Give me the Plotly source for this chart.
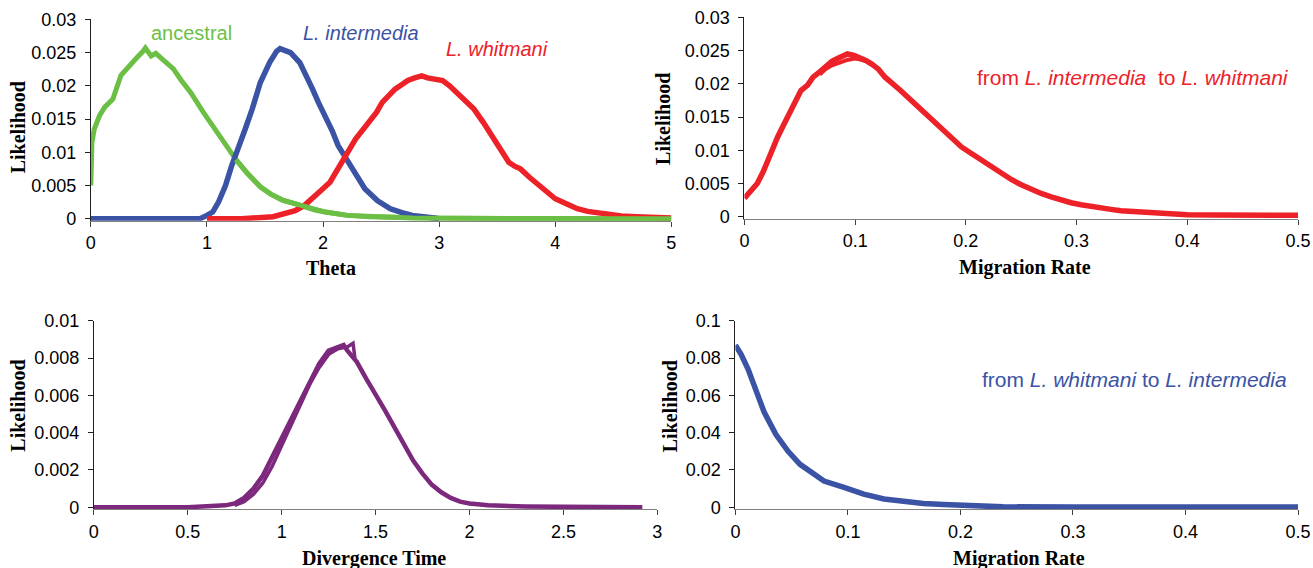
import plotly.graph_objects as go

W, H = 1313, 568

# ---- Panel A: Theta ----
anc_x = [0.0, 0.01, 0.03, 0.075, 0.12, 0.19, 0.26, 0.34, 0.40, 0.45, 0.47, 0.52, 0.56, 0.63, 0.71, 0.78, 0.86, 0.97, 1.09, 1.17, 1.25, 1.35, 1.46, 1.55, 1.65, 1.75, 1.84, 1.93, 2.02, 2.21, 2.4, 2.6, 2.77, 3.0, 3.5, 4.0, 4.5, 5.0]
anc_y = [0.005, 0.0115, 0.0135, 0.0155, 0.0168, 0.018, 0.0216, 0.023, 0.0243, 0.0252, 0.0257, 0.0245, 0.0249, 0.0238, 0.0226, 0.0208, 0.019, 0.016, 0.013, 0.0108, 0.0089, 0.0068, 0.0048, 0.0037, 0.0028, 0.0023, 0.0018, 0.0013, 0.001, 0.0005, 0.0003, 0.0002, 0.0001, 0.00005, 0.00003, 0.00002, 0.0, 0.0]

int_x = [0.0, 0.5, 0.94, 1.0, 1.05, 1.1, 1.16, 1.21, 1.27, 1.33, 1.39, 1.46, 1.54, 1.6, 1.63, 1.68, 1.72, 1.8, 1.86, 1.91, 1.96, 2.02, 2.08, 2.13, 2.19, 2.25, 2.3, 2.36, 2.47, 2.58, 2.68, 2.77, 2.96, 3.0]
int_y = [0.0, 0.0, 0.0, 0.0005, 0.001, 0.0025, 0.005, 0.0078, 0.0105, 0.0135, 0.0165, 0.0205, 0.0235, 0.0252, 0.0256, 0.0252, 0.025, 0.0235, 0.0215, 0.0195, 0.0175, 0.0155, 0.0132, 0.011, 0.0092, 0.0075, 0.006, 0.0045, 0.0027, 0.0015, 0.0009, 0.0005, 0.0001, 0.0]

wht_x = [1.0, 1.3, 1.57, 1.68, 1.76, 1.84, 1.91, 1.98, 2.06, 2.12, 2.17, 2.23, 2.28, 2.34, 2.4, 2.46, 2.51, 2.57, 2.62, 2.68, 2.73, 2.79, 2.85, 2.9, 2.96, 3.03, 3.09, 3.15, 3.22, 3.3, 3.38, 3.45, 3.52, 3.6, 3.65, 3.7, 3.78, 3.86, 3.93, 4.0, 4.1, 4.19, 4.28, 4.38, 4.47, 4.57, 4.7, 4.83, 5.0]
wht_y = [0.0, 0.0, 0.0003, 0.0007, 0.0012, 0.002, 0.003, 0.0042, 0.0055, 0.0072, 0.009, 0.0105, 0.012, 0.0133, 0.0145, 0.016, 0.0175, 0.0186, 0.0195, 0.0202, 0.0208, 0.0212, 0.0215, 0.0212, 0.021, 0.0208, 0.02, 0.019, 0.0178, 0.0165, 0.0145, 0.0125, 0.0105, 0.0085, 0.0079, 0.0075, 0.0062, 0.005, 0.004, 0.003, 0.0022, 0.0015, 0.0011, 0.0008, 0.0006, 0.0004, 0.0003, 0.0002, 0.0001]

# ---- Panel B: migration L. intermedia -> L. whitmani (two runs) ----
mig1_x = [0.0, 0.006, 0.0116, 0.017, 0.022, 0.03, 0.035, 0.04, 0.046, 0.051, 0.057, 0.062, 0.068, 0.073, 0.079, 0.084, 0.089, 0.093, 0.099, 0.104, 0.11, 0.115, 0.121, 0.127, 0.134, 0.141, 0.15, 0.16, 0.169, 0.178, 0.187, 0.196, 0.205, 0.214, 0.223, 0.232, 0.241, 0.25, 0.259, 0.268, 0.277, 0.286, 0.295, 0.304, 0.313, 0.322, 0.331, 0.34, 0.349, 0.358, 0.367, 0.376, 0.39, 0.4, 0.425, 0.448, 0.475, 0.5]
mig1_y = [0.0028, 0.0038, 0.005, 0.0068, 0.009, 0.012, 0.0137, 0.0155, 0.0172, 0.019, 0.0198, 0.021, 0.0218, 0.0225, 0.0234, 0.0238, 0.0242, 0.0245, 0.0243, 0.024, 0.0235, 0.023, 0.0222, 0.021, 0.0201, 0.019, 0.0176, 0.016, 0.0146, 0.0132, 0.0118, 0.0105, 0.0095, 0.0085, 0.0075, 0.0065, 0.0056, 0.0048, 0.0041, 0.0035, 0.003, 0.0025, 0.0021, 0.0018, 0.0015, 0.0013, 0.0011, 0.0009, 0.0008, 0.0007, 0.0006, 0.0005, 0.0004, 0.0003, 0.00025, 0.0002, 0.0002, 0.0002]
mig1b_x = [0.068, 0.073, 0.079, 0.084, 0.089, 0.093, 0.099, 0.104, 0.11, 0.115, 0.121]
mig1b_y = [0.0214, 0.0222, 0.0228, 0.0231, 0.0234, 0.0236, 0.0238, 0.0237, 0.0234, 0.0229, 0.0222]

# ---- Panel C: divergence time (two runs) ----
div_x = [0.0, 0.1, 0.5, 0.7, 0.75, 0.8, 0.85, 0.9, 0.95, 1.0, 1.05, 1.1, 1.15, 1.2, 1.25, 1.3, 1.33, 1.35, 1.4, 1.45, 1.5, 1.55, 1.6, 1.65, 1.7, 1.75, 1.8, 1.85, 1.9, 1.95, 2.0, 2.1, 2.2, 2.3, 2.5, 2.7, 2.92]
div_y = [0.0, 0.0, 0.0, 0.0001, 0.0002, 0.0005, 0.001, 0.0017, 0.0027, 0.0037, 0.0048, 0.0058, 0.0068, 0.0077, 0.0084, 0.0086, 0.0087, 0.0084, 0.0078, 0.0069, 0.0061, 0.0052, 0.0043, 0.0034, 0.0025, 0.0018, 0.0012, 0.0008, 0.0005, 0.0003, 0.0002, 0.0001, 0.00005, 0.00004, 0.00002, 0.00001, 0.0]
div2_x = [0.75, 0.8, 0.85, 0.9, 0.95, 1.0, 1.05, 1.1, 1.15, 1.2, 1.25, 1.3, 1.35, 1.38, 1.39]
div2_y = [0.0001, 0.0003, 0.0007, 0.0013, 0.0022, 0.0033, 0.0044, 0.0055, 0.0066, 0.0075, 0.0082, 0.0085, 0.0086, 0.0088, 0.0080]

# ---- Panel D: migration L. whitmani -> L. intermedia ----
mig2_x = [0.0, 0.005, 0.0113, 0.0184, 0.0255, 0.036, 0.0468, 0.0574, 0.068, 0.0787, 0.0965, 0.114, 0.132, 0.15, 0.167, 0.185, 0.203, 0.224, 0.238, 0.3, 0.4, 0.5]
mig2_y = [0.087, 0.082, 0.074, 0.062, 0.051, 0.039, 0.030, 0.023, 0.0186, 0.014, 0.0106, 0.007, 0.0044, 0.003, 0.002, 0.0014, 0.001, 0.0005, 0.0002, 0.0001, 0.0001, 0.0001]

x_ticks_A = [0, 1, 2, 3, 4, 5]
y_ticks_A = [0, 0.005, 0.01, 0.015, 0.02, 0.025, 0.03]
x_ticks_B = [0, 0.1, 0.2, 0.3, 0.4, 0.5]
y_ticks_B = [0, 0.005, 0.01, 0.015, 0.02, 0.025, 0.03]
x_ticks_C = [0, 0.5, 1, 1.5, 2, 2.5, 3]
y_ticks_C = [0, 0.002, 0.004, 0.006, 0.008, 0.01]
x_ticks_D = [0, 0.1, 0.2, 0.3, 0.4, 0.5]
y_ticks_D = [0, 0.02, 0.04, 0.06, 0.08, 0.1]

GREEN = "#6cbf45"
BLUE = "#3a53a4"
RED = "#ed2229"
PURPLE = "#7b287d"

fig = go.Figure()
def line(x, y, color, w, xa, ya):
    fig.add_trace(go.Scatter(x=x, y=y, mode="lines", line=dict(color=color, width=w), xaxis=xa, yaxis=ya, hoverinfo="skip"))

line(anc_x, anc_y, GREEN, 5, "x", "y")
line(int_x, int_y, BLUE, 5.5, "x", "y")
line(wht_x, wht_y, RED, 5.5, "x", "y")
line(anc_x[20:], anc_y[20:], GREEN, 5, "x", "y")
line(mig1_x, mig1_y, RED, 5.5, "x2", "y2")
line(mig1b_x, mig1b_y, RED, 4, "x2", "y2")
line(div_x, div_y, PURPLE, 4.5, "x3", "y3")
line(div2_x, div2_y, PURPLE, 3.5, "x3", "y3")
line(mig2_x, mig2_y, BLUE, 5.5, "x4", "y4")

# pixel positions (as seen in the reference) -> paper coordinates, with a small calibration
def px(v):
    return min(1311 / W, max(0.0, ((v - 5.3) / 0.9853) / W))

def py(v):
    return min(1.0, max(0.0, 1 - ((v - 9.6) / 0.967) / H))

tickfont = dict(family="Liberation Sans, Arial, sans-serif", size=18, color="black")

def xax(domain, anchor, rng, ticks):
    return dict(domain=domain, anchor=anchor, range=rng, tickvals=ticks, ticktext=[f"{t:g}" for t in ticks],
                showgrid=False, zeroline=False, showline=True, linecolor="#808080", linewidth=1,
                ticks="outside", ticklen=5, tickcolor="#404040", tickfont=tickfont, ticklabelstandoff=1,
                ticklabeloverflow="allow")

def yax(domain, anchor, rng, ticks):
    return dict(domain=domain, anchor=anchor, range=rng, tickvals=ticks, ticktext=[f"{t:g}" for t in ticks],
                showgrid=False, zeroline=False, showline=True, linecolor="#202020", linewidth=1,
                ticks="outside", ticklen=5, tickcolor="#202020", tickfont=tickfont, ticklabelstandoff=5)

fig.update_layout(
    width=W, height=H, paper_bgcolor="white", plot_bgcolor="white", showlegend=False,
    margin=dict(l=0, r=0, t=0, b=0),
    xaxis=xax([px(91), px(671)], "y", [0, 5], x_ticks_A),
    yaxis=yax([py(220), py(19)], "x", [-0.0003, 0.03], y_ticks_A),
    xaxis2=xax([px(744), px(1305)], "y2", [0, 0.5], x_ticks_B),
    yaxis2=yax([py(218), py(17)], "x2", [-0.0003, 0.03], y_ticks_B),
    xaxis3=xax([px(94), px(657)], "y3", [0, 3], x_ticks_C),
    yaxis3=yax([py(508), py(320)], "x3", [-0.0001, 0.01], y_ticks_C),
    xaxis4=xax([px(735), px(1305)], "y4", [0, 0.5], x_ticks_D),
    yaxis4=yax([py(508), py(320)], "x4", [-0.001, 0.1], y_ticks_D),
)

titlefont = dict(family="Liberation Serif, Times New Roman, serif", size=20, color="black")
titles = [
    ("<b>Theta</b>", 331, 267, 0),
    ("<b>Migration Rate</b>", 1024, 267, 0),
    ("<b>Divergence Time</b>", 374, 557, 0),
    ("<b>Migration Rate</b>", 1018, 557, 0),
    ("<b>Likelihood</b>", 18, 127, -90),
    ("<b>Likelihood</b>", 662, 118, -90),
    ("<b>Likelihood</b>", 18, 405, -90),
    ("<b>Likelihood</b>", 670, 405, -90),
]
for text, x, y, ang in titles:
    fig.add_annotation(text=text, x=px(x), y=py(y), xref="paper", yref="paper", showarrow=False,
                       xanchor="center", yanchor="middle", textangle=ang, font=titlefont)

lblfont = "Liberation Sans, Arial, sans-serif"
labels = [
    ("ancestral", 192, 33, GREEN, 20),
    ("<i>L. intermedia</i>", 361, 33, BLUE, 20),
    ("<i>L. whitmani</i>", 497, 49, RED, 20),
    ("from <i>L. intermedia</i>  to <i>L. whitmani</i>", 1132, 77, RED, 21),
    ("from <i>L. whitmani</i> to <i>L. intermedia</i>", 1134, 379, BLUE, 21),
]
for text, x, y, c, s in labels:
    fig.add_annotation(text=text, x=px(x), y=py(y), xref="paper", yref="paper", showarrow=False,
                       xanchor="center", yanchor="middle", font=dict(family=lblfont, size=s, color=c))

fig.write_html("out.html", config={"displayModeBar": False},
               post_script="document.body.style.margin='0px';document.body.style.overflow='hidden';")
